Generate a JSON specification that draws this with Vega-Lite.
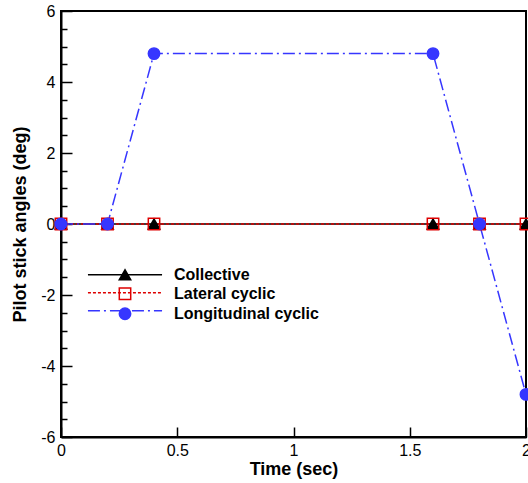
{
  "$schema": "https://vega.github.io/schema/vega-lite/v6.json",
  "width": 465,
  "height": 426,
  "autosize": "none",
  "padding": {"left": 61, "top": 11, "right": 2, "bottom": 46},
  "config": {
    "font": "Liberation Sans",
    "view": {"stroke": "black", "strokeWidth": 2}
  },
  "data": {
    "values": [
      {"series": "Collective", "t": 0, "v": 0},
      {"series": "Collective", "t": 0.2, "v": 0},
      {"series": "Collective", "t": 0.4, "v": 0},
      {"series": "Collective", "t": 1.6, "v": 0},
      {"series": "Collective", "t": 1.8, "v": 0},
      {"series": "Collective", "t": 2.0, "v": 0},
      {"series": "Lateral cyclic", "t": 0, "v": 0},
      {"series": "Lateral cyclic", "t": 0.2, "v": 0},
      {"series": "Lateral cyclic", "t": 0.4, "v": 0},
      {"series": "Lateral cyclic", "t": 1.6, "v": 0},
      {"series": "Lateral cyclic", "t": 1.8, "v": 0},
      {"series": "Lateral cyclic", "t": 2.0, "v": 0},
      {"series": "Longitudinal cyclic", "t": 0, "v": 0},
      {"series": "Longitudinal cyclic", "t": 0.2, "v": 0},
      {"series": "Longitudinal cyclic", "t": 0.4, "v": 4.8},
      {"series": "Longitudinal cyclic", "t": 1.6, "v": 4.8},
      {"series": "Longitudinal cyclic", "t": 1.8, "v": 0},
      {"series": "Longitudinal cyclic", "t": 2.0, "v": -4.8}
    ]
  },
  "resolve": {"axis": {"y": "independent"}},
  "layer": [
    {
      "mark": {"type": "line", "strokeWidth": 1.5},
      "encoding": {
        "x": {
          "field": "t", "type": "quantitative",
          "scale": {"domain": [0, 2], "nice": false, "zero": false},
          "axis": {
            "title": "Time (sec)", "values": [0, 0.5, 1, 1.5, 2], "format": "~g",
            "grid": false, "tickSize": -10, "tickColor": "black", "tickWidth": 1.5,
            "domainColor": "black", "domainWidth": 2,
            "labelFontSize": 16, "labelColor": "black", "labelPadding": 15, "labelFlush": false,
            "titleFontSize": 18, "titleFontWeight": "bold", "titleColor": "black", "titlePadding": 2
          }
        },
        "y": {
          "field": "v", "type": "quantitative",
          "scale": {"domain": [-6, 6], "nice": false},
          "axis": {
            "orient": "left",
            "title": "Pilot stick angles (deg)", "values": [-6, -4, -2, 0, 2, 4, 6],
            "labelExpr": "datum.value < 0 ? '-' + abs(datum.value) : '' + datum.value",
            "grid": false, "tickSize": -11, "tickColor": "black", "tickWidth": 1.5,
            "domainColor": "black", "domainWidth": 2,
            "labelFontSize": 16, "labelColor": "black", "labelPadding": 17,
            "titleFontSize": 18, "titleFontWeight": "bold", "titleColor": "black", "titlePadding": 11
          }
        },
        "color": {
          "field": "series", "type": "nominal",
          "scale": {"range": ["black", "#dd0000", "#3636ff"]},
          "legend": {
            "orient": "none", "legendX": 56, "legendY": 255.8, "title": null,
            "symbolType": "M-6.5,0H6.5", "symbolSize": 130, "symbolStrokeWidth": 1.5,
            "labelFontSize": 16, "labelFontWeight": "bold", "labelExpr": "''",
            "labelOffset": 0, "rowPadding": 2
          }
        },
        "strokeDash": {
          "field": "series", "type": "nominal",
          "scale": {"range": [[1, 0], [3, 2], [12, 4, 2, 4]]}
        }
      }
    },
    {
      "mark": {"type": "point", "size": 130, "strokeWidth": 1.5, "opacity": 1},
      "encoding": {
        "x": {"field": "t", "type": "quantitative"},
        "y": {
          "field": "v", "type": "quantitative",
          "axis": {
            "orient": "left", "title": null, "labels": false, "domain": false, "grid": false,
            "values": [-5.5, -5, -4.5, -3.5, -3, -2.5, -1.5, -1, -0.5, 0.5, 1, 1.5, 2.5, 3, 3.5, 4.5, 5, 5.5],
            "tickSize": -6, "tickColor": "black", "tickWidth": 1.5
          }
        },
        "shape": {
          "field": "series", "type": "nominal",
          "scale": {"domain": ["Collective", "Lateral cyclic", "Longitudinal cyclic"], "range": ["triangle-up", "square", "circle"]},
          "legend": {
            "orient": "none", "legendX": 56, "legendY": 255.8, "title": null,
            "symbolSize": 130, "symbolStrokeWidth": 1.5,
            "labelFontSize": 16, "labelFontWeight": "bold", "labelColor": "black",
            "labelOffset": 41, "rowPadding": 2
          }
        },
        "stroke": {
          "field": "series", "type": "nominal",
          "scale": {"domain": ["Collective", "Lateral cyclic", "Longitudinal cyclic"], "range": ["black", "#dd0000", "#3636ff"]}
        },
        "fill": {
          "field": "series", "type": "nominal",
          "scale": {"domain": ["Collective", "Lateral cyclic", "Longitudinal cyclic"], "range": ["black", "transparent", "#3636ff"]}
        }
      }
    }
  ]
}
